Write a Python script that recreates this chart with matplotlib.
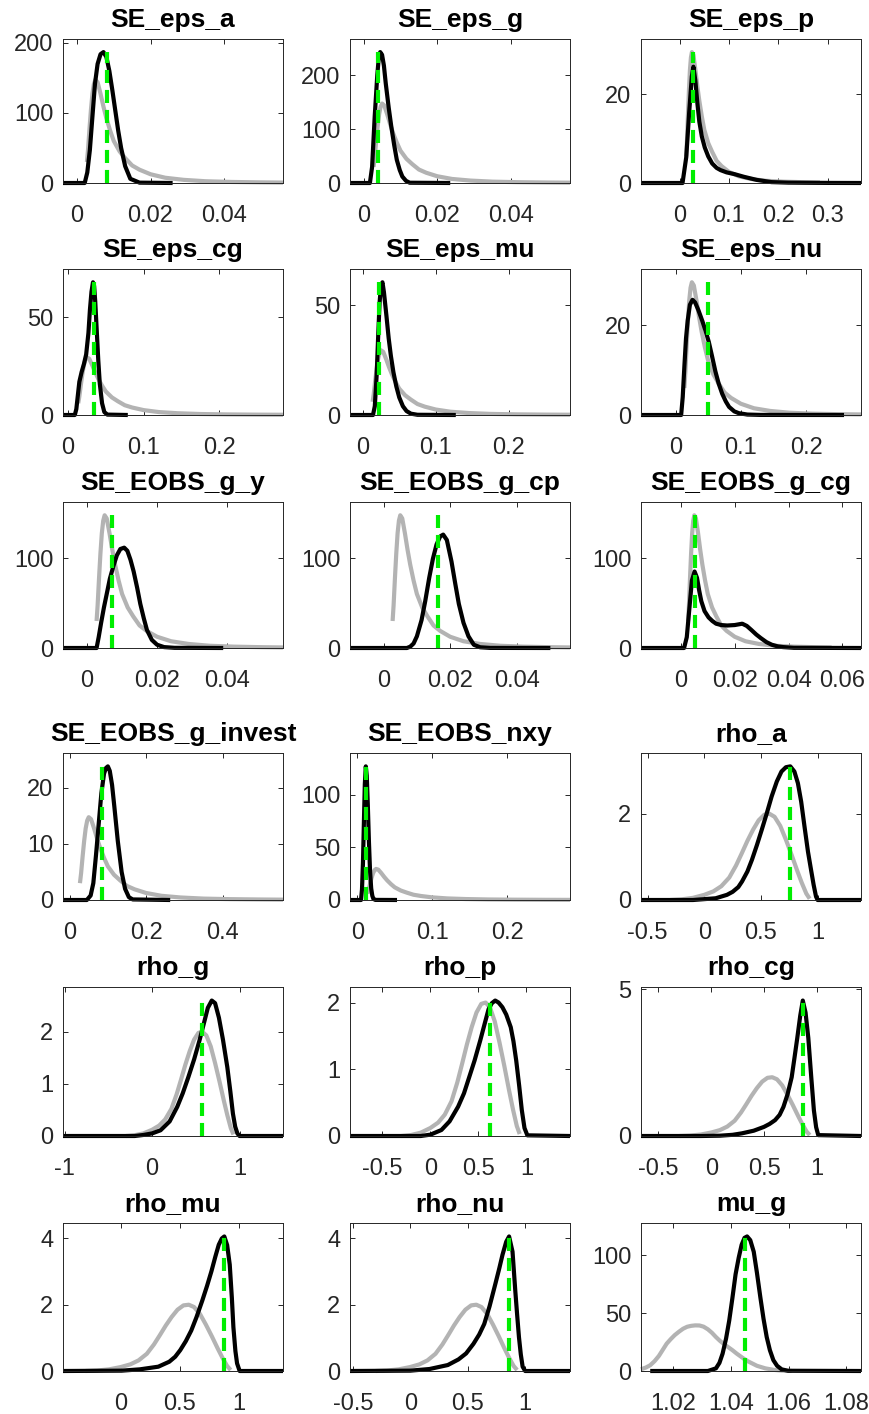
"""Prior vs posterior density panels (Dynare style), two 3x3 pages stacked."""
import matplotlib

matplotlib.use("Agg")
import matplotlib.pyplot as plt
from matplotlib.ticker import FuncFormatter

plt.rcParams.update(
    {
        "font.family": ["Liberation Sans", "DejaVu Sans"],
        "axes.unicode_minus": False,
        "lines.scale_dashes": False,
    }
)

GRAY = "#b3b3b3"
GREEN = "#00ee00"
AXCOL = "#262626"

# ---- priors ----
PRIOR_SMALL_X = [0.0027, 0.003, 0.0034, 0.0038, 0.0042, 0.0046, 0.005, 0.0056, 0.0064, 0.0072, 0.008, 0.009,
                 0.01, 0.0116, 0.0132, 0.015, 0.017, 0.02, 0.024, 0.029, 0.035, 0.042, 0.05, 0.056]
PRIOR_SMALL_Y = [30, 47.5, 77.5, 105, 127.5, 141.5, 147.5, 144, 127.5, 109, 92.5, 75,
                 60, 45, 35, 25, 19, 12.5, 7.5, 4.5, 2.5, 1.5, 0.9, 0.6]

PRIOR_MID_X = [0.0135, 0.015, 0.017, 0.019, 0.021, 0.023, 0.025, 0.028, 0.032, 0.036, 0.04, 0.045, 0.05,
               0.058, 0.066, 0.075, 0.085, 0.1, 0.12, 0.145, 0.175, 0.21, 0.25, 0.284]
PRIOR_MID_Y = [6, 9.5, 15.5, 21, 25.5, 28.3, 29.5, 28.8, 25.5, 21.8, 18.5, 15, 12,
               9, 7, 5, 3.8, 2.5, 1.5, 0.9, 0.5, 0.3, 0.18, 0.12]

PRIOR_INVEST_X = [0.027, 0.03, 0.034, 0.038, 0.042, 0.046, 0.05, 0.056, 0.064, 0.072, 0.08, 0.09, 0.1,
                  0.116, 0.132, 0.15, 0.17, 0.2, 0.24, 0.29, 0.35, 0.42, 0.5, 0.558]
PRIOR_INVEST_Y = [3, 4.75, 7.75, 10.5, 12.75, 14.15, 14.75, 14.4, 12.75, 10.9, 9.25, 7.5, 6,
                  4.5, 3.5, 2.5, 1.9, 1.25, 0.75, 0.45, 0.25, 0.15, 0.09, 0.06]

PRIOR_RHO_X = [-0.3, -0.2, -0.1, 0.0, 0.08, 0.15, 0.22, 0.28, 0.33, 0.38, 0.43, 0.48, 0.53, 0.575,
               0.62, 0.67, 0.72, 0.77, 0.82, 0.86, 0.9, 0.93]
PRIOR_RHO_Y = [0.0, 0.015, 0.05, 0.12, 0.2, 0.32, 0.52, 0.8, 1.08, 1.37, 1.63, 1.85, 1.98, 2.0,
               1.93, 1.72, 1.4, 1.05, 0.68, 0.4, 0.15, 0.03]

PRIOR_MU_G_X = [1.0088, 1.0105, 1.012, 1.0135, 1.015, 1.0164, 1.0177, 1.0191, 1.0205, 1.022, 1.0234,
                1.0248, 1.0262, 1.0276, 1.0291, 1.0305, 1.032, 1.0334, 1.0348, 1.0362, 1.0377, 1.0391,
                1.0405, 1.042, 1.0434, 1.0448, 1.0462, 1.049, 1.0519, 1.0548, 1.0576, 1.061]
PRIOR_MU_G_Y = [1.5, 3, 5, 8.5, 13, 18.5, 23.6, 27.5, 31, 34, 36.5, 38.2, 39, 39.4, 39.3, 38.3, 36,
                33, 29.3, 26, 23, 20.5, 18, 15, 12.5, 10, 8, 4.5, 2.3, 1, 0.3, 0.05]

# ---- posteriors ----
EPS_A_X = [-0.0038, 0.0021, 0.0028, 0.0035, 0.0042, 0.0049, 0.0056, 0.0064, 0.0072, 0.008, 0.0088,
           0.0096, 0.0104, 0.0112, 0.012, 0.0131, 0.0145, 0.017, 0.026]
EPS_A_Y = [0, 0, 15, 47, 95, 142, 170, 184, 187, 180, 160, 133, 104, 75, 50, 24, 6, 0.5, 0]

EPS_G_X = [-0.0037, 0.0017, 0.0023, 0.003, 0.0037, 0.0041, 0.0045, 0.005, 0.0055, 0.006, 0.0068,
           0.0075, 0.0083, 0.009, 0.0098, 0.0105, 0.0115, 0.0125, 0.0235]
EPS_G_Y = [0, 0, 30, 123, 200, 232, 243, 238, 218, 185, 140, 105, 70, 43, 24, 12, 4, 0.5, 0]

EPS_P_X = [-0.078, 0.006, 0.0135, 0.0195, 0.0248, 0.028, 0.032, 0.036, 0.04, 0.045, 0.051, 0.058,
           0.066, 0.075, 0.083, 0.095, 0.111, 0.13, 0.156, 0.186, 0.22, 0.3, 0.367]
EPS_P_Y = [0, 0, 5.8, 16, 24, 26.2, 23, 18, 13.8, 10.5, 8, 6, 4.4, 3.4, 2.9, 2.4, 2.0, 1.4, 0.7,
           0.2, 0.08, 0.02, 0]

EPS_CG_X = [-0.0066, 0.009, 0.011, 0.013, 0.015, 0.018, 0.021, 0.024, 0.027, 0.029, 0.031, 0.033,
            0.0345, 0.036, 0.038, 0.04, 0.042, 0.045, 0.048, 0.052, 0.079]
EPS_CG_Y = [0, 0, 3, 10, 17, 22, 26, 31, 42, 54, 63, 67.9, 66, 58, 43, 28, 16, 6, 1.5, 0.2, 0]

EPS_MU_X = [-0.0175, 0.014, 0.0165, 0.019, 0.021, 0.023, 0.025, 0.027, 0.029, 0.0325, 0.0355, 0.0385,
            0.042, 0.046, 0.05, 0.055, 0.06, 0.066, 0.075, 0.1275]
EPS_MU_Y = [0, 0, 4, 18, 35, 51, 59, 60.5, 56, 45, 35, 27, 19.5, 13, 8, 4, 1.8, 0.6, 0.1, 0]

EPS_NU_X = [-0.0529, 0.0086, 0.011, 0.0136, 0.016, 0.0186, 0.022, 0.026, 0.03, 0.035, 0.041, 0.046,
            0.051, 0.056, 0.061, 0.066, 0.0715, 0.077, 0.082, 0.09, 0.097, 0.11, 0.13, 0.258]
EPS_NU_Y = [0, 0, 4, 11, 17, 21, 24.5, 25.6, 25, 23.3, 20.9, 18.7, 16.2, 13, 9.7, 7, 4.7, 3, 1.8,
            0.8, 0.4, 0.1, 0.02, 0]

G_Y_X = [-0.0069, 0.0027, 0.0033, 0.004, 0.0048, 0.0056, 0.0065, 0.0075, 0.0085, 0.0095, 0.0106,
         0.0115, 0.0124, 0.0133, 0.0143, 0.0152, 0.0162, 0.0171, 0.0185, 0.02, 0.022, 0.025, 0.0389]
G_Y_Y = [0, 0, 12, 28, 45, 60, 77, 91, 103, 110, 111.5, 108, 98, 85, 67, 49, 33, 20, 9, 3.6, 1, 0.2, 0]

G_CP_X = [-0.0101, 0.007, 0.008, 0.009, 0.010, 0.0114, 0.0125, 0.0137, 0.0148, 0.0159, 0.017, 0.0179,
          0.019, 0.0204, 0.0215, 0.0226, 0.024, 0.0255, 0.0271, 0.029, 0.032, 0.0501]
G_CP_Y = [0, 0, 1.5, 5, 13, 31, 52, 78, 99, 115, 124, 126, 120, 96, 72, 49, 28, 13, 3.6, 0.8, 0.1, 0]

G_CG_X = [-0.0148, 0.0012, 0.0022, 0.0032, 0.0041, 0.0051, 0.006, 0.0068, 0.0076, 0.0088, 0.0103,
          0.0117, 0.0131, 0.015, 0.0172, 0.02, 0.0228, 0.0245, 0.0262, 0.028, 0.0297, 0.0318, 0.0338,
          0.036, 0.038, 0.042, 0.0669]
G_CG_Y = [0, 0, 12, 45, 75, 85, 78, 64, 52, 41, 34, 30, 27, 25.5, 25, 25.5, 27, 24.5, 20, 15, 11,
          6.5, 3.6, 1.8, 1, 0.2, 0]

G_INV_X = [-0.0173, 0.045, 0.055, 0.062, 0.069, 0.076, 0.083, 0.09, 0.095, 0.1, 0.105, 0.111, 0.117,
           0.126, 0.136, 0.145, 0.155, 0.165, 0.263]
G_INV_Y = [0, 0, 0.8, 3, 8, 13.5, 19, 22.5, 23.5, 23.8, 23, 20.5, 16.6, 10.5, 5, 2, 0.5, 0.1, 0]

NXY_X = [-0.0098, 0.0049, 0.0062, 0.0075, 0.0088, 0.01, 0.0113, 0.0126, 0.014, 0.0155, 0.017, 0.0185,
         0.02, 0.0215, 0.024, 0.053]
NXY_Y = [0, 0, 10, 35, 75, 110, 126.8, 118, 90, 55, 27, 11, 4, 1, 0.1, 0]

RHO_A_X = [-0.559, -0.1, 0.1, 0.2, 0.25, 0.3, 0.333, 0.38, 0.42, 0.465, 0.507, 0.55, 0.594, 0.64,
           0.681, 0.72, 0.759, 0.795, 0.826, 0.855, 0.884, 0.915, 0.942, 0.965, 0.986, 1.0, 1.383]
RHO_A_Y = [0, 0, 0.04, 0.12, 0.19, 0.3, 0.43, 0.66, 0.93, 1.28, 1.63, 2.0, 2.4, 2.75, 2.98, 3.08,
           3.10, 2.98, 2.71, 2.28, 1.71, 1.12, 0.70, 0.35, 0.08, 0.0, 0]

RHO_G_X = [-1.02, -0.2, -0.1, 0.0, 0.096, 0.2, 0.287, 0.35, 0.414, 0.48, 0.541, 0.59, 0.637, 0.682,
           0.72, 0.764, 0.81, 0.86, 0.895, 0.924, 0.95, 0.975, 1.0, 1.497]
RHO_G_Y = [0, 0, 0.02, 0.05, 0.11, 0.28, 0.56, 0.82, 1.13, 1.47, 1.83, 2.15, 2.46, 2.6, 2.55, 2.27,
           1.85, 1.32, 0.85, 0.43, 0.18, 0.05, 0, 0]

RHO_P_X = [-0.837, -0.1, 0.0, 0.115, 0.2, 0.289, 0.35, 0.404, 0.46, 0.519, 0.565, 0.606, 0.64, 0.675,
           0.71, 0.75, 0.79, 0.837, 0.865, 0.894, 0.925, 0.952, 0.98, 1.01, 1.454]
RHO_P_Y = [0, 0, 0.02, 0.09, 0.22, 0.44, 0.64, 0.88, 1.13, 1.43, 1.68, 1.9, 1.99, 2.03, 2.0, 1.93,
           1.82, 1.63, 1.42, 1.13, 0.75, 0.39, 0.12, 0.01, 0]

RHO_CG_X = [-0.665, -0.1, 0.079, 0.2, 0.288, 0.4, 0.497, 0.55, 0.602, 0.645, 0.681, 0.72, 0.759,
            0.785, 0.812, 0.84, 0.864, 0.89, 0.916, 0.945, 0.969, 0.99, 1.01, 1.414]
RHO_CG_Y = [0, 0, 0.01, 0.04, 0.09, 0.18, 0.31, 0.41, 0.54, 0.72, 0.99, 1.42, 2.0, 2.65, 3.34, 4.1,
            4.61, 4.2, 3.34, 1.95, 0.87, 0.3, 0.03, 0]

RHO_MU_X = [-0.49, 0.006, 0.161, 0.317, 0.41, 0.46, 0.503, 0.55, 0.596, 0.64, 0.689, 0.73, 0.767,
            0.8, 0.829, 0.855, 0.876, 0.9, 0.922, 0.94, 0.953, 0.97, 0.984, 1.006, 1.373]
RHO_MU_Y = [0, 0.01, 0.05, 0.13, 0.28, 0.43, 0.63, 0.9, 1.22, 1.62, 2.12, 2.57, 3.01, 3.45, 3.81,
            4.0, 4.06, 3.8, 3.21, 2.2, 1.32, 0.6, 0.23, 0, 0]

RHO_NU_X = [-0.524, 0.0, 0.168, 0.327, 0.42, 0.486, 0.55, 0.6, 0.644, 0.69, 0.74, 0.775, 0.803,
            0.835, 0.86, 0.89, 0.914, 0.93, 0.946, 0.962, 0.978, 1.0, 1.39]
RHO_NU_Y = [0, 0.01, 0.06, 0.18, 0.35, 0.53, 0.82, 1.1, 1.42, 1.95, 2.62, 3.1, 3.51, 3.9, 4.06, 3.6,
            2.42, 1.7, 1.02, 0.5, 0.13, 0, 0]

MU_G_X = [1.012, 1.032, 1.0348, 1.036, 1.0371, 1.0383, 1.0394, 1.0405, 1.0416, 1.0427, 1.0437,
          1.0447, 1.0456, 1.0467, 1.0479, 1.049, 1.0502, 1.0513, 1.0524, 1.0535, 1.0547, 1.056,
          1.0576, 1.0598, 1.0851]
MU_G_Y = [0, 0, 2.3, 7, 15, 28, 43.6, 63, 83.5, 98, 109, 115, 116.2, 113, 103, 85, 63.5, 45, 29.3,
          18, 9.4, 4.5, 1.4, 0.2, 0]

TITLES = ["SE_eps_a", "SE_eps_g", "SE_eps_p", "SE_eps_cg", "SE_eps_mu", "SE_eps_nu",
          "SE_EOBS_g_y", "SE_EOBS_g_cp", "SE_EOBS_g_cg", "SE_EOBS_g_invest", "SE_EOBS_nxy", "rho_a",
          "rho_g", "rho_p", "rho_cg", "rho_mu", "rho_nu", "mu_g"]
MODES = [0.0082, 0.004, 0.027, 0.034, 0.0225, 0.050, 0.0072, 0.0162, 0.0051, 0.085, 0.0113, 0.76,
         0.573, 0.617, 0.864, 0.876, 0.86, 1.045]
XTICKS = [[0, 0.02, 0.04], [0, 0.02, 0.04], [0, 0.1, 0.2, 0.3], [0, 0.1, 0.2], [0, 0.1, 0.2],
          [0, 0.1, 0.2], [0, 0.02, 0.04], [0, 0.02, 0.04], [0, 0.02, 0.04, 0.06], [0, 0.2, 0.4],
          [0, 0.1, 0.2], [-0.5, 0, 0.5, 1], [-1, 0, 1], [-0.5, 0, 0.5, 1], [-0.5, 0, 0.5, 1],
          [0, 0.5, 1], [-0.5, 0, 0.5, 1], [1.02, 1.04, 1.06, 1.08]]
YTICKS = [[0, 100, 200], [0, 100, 200], [0, 20], [0, 50], [0, 50], [0, 20], [0, 100], [0, 100],
          [0, 100], [0, 10, 20], [0, 50, 100], [0, 2], [0, 1, 2], [0, 1, 2], [0, 5], [0, 2, 4],
          [0, 2, 4], [0, 50, 100]]

POSTERIORS = [(EPS_A_X, EPS_A_Y), (EPS_G_X, EPS_G_Y), (EPS_P_X, EPS_P_Y), (EPS_CG_X, EPS_CG_Y),
              (EPS_MU_X, EPS_MU_Y), (EPS_NU_X, EPS_NU_Y), (G_Y_X, G_Y_Y), (G_CP_X, G_CP_Y),
              (G_CG_X, G_CG_Y), (G_INV_X, G_INV_Y), (NXY_X, NXY_Y), (RHO_A_X, RHO_A_Y),
              (RHO_G_X, RHO_G_Y), (RHO_P_X, RHO_P_Y), (RHO_CG_X, RHO_CG_Y), (RHO_MU_X, RHO_MU_Y),
              (RHO_NU_X, RHO_NU_Y), (MU_G_X, MU_G_Y)]
SMALL = (PRIOR_SMALL_X, PRIOR_SMALL_Y)
MID = (PRIOR_MID_X, PRIOR_MID_Y)
RHO = (PRIOR_RHO_X, PRIOR_RHO_Y)
PRIORS = [SMALL, SMALL, MID, MID, MID, MID, SMALL, SMALL, SMALL, (PRIOR_INVEST_X, PRIOR_INVEST_Y), MID,
          RHO, RHO, RHO, RHO, RHO, RHO, (PRIOR_MU_G_X, PRIOR_MU_G_Y)]

# layout in pixels
W, H = 870, 1414
COL_LEFT = [63, 350, 641]
COL_WIDTH = 220
ROW_TOP = [39, 269, 502, 753, 987, 1223]
ROW_BOTTOM = [183, 415, 648, 900, 1136, 1371]

fig = plt.figure(figsize=(W / 100, H / 100), dpi=100)
fmt = FuncFormatter(lambda v, _: f"{v:g}")

for i, title in enumerate(TITLES):
    r, c = divmod(i, 3)
    ax = fig.add_axes([COL_LEFT[c] / W, 1 - ROW_BOTTOM[r] / H, COL_WIDTH / W,
                       (ROW_BOTTOM[r] - ROW_TOP[r]) / H])
    px, py = POSTERIORS[i]
    qx, qy = PRIORS[i]
    peak = max(max(py), max(qy))
    ax.plot(qx, qy, color=GRAY, lw=3, solid_capstyle="butt", clip_on=False)
    ax.plot(px, py, color="black", lw=3, solid_capstyle="butt", clip_on=False)
    ax.plot([MODES[i], MODES[i]], [0, peak], color=GREEN, lw=3, dashes=(9.4, 5.0))
    ax.set_xlim(min(px[0], qx[0]), max(px[-1], qx[-1]))
    ax.set_ylim(0, 1.1 * peak)
    ax.set_xticks(XTICKS[i])
    ax.set_yticks(YTICKS[i])
    ax.xaxis.set_major_formatter(fmt)
    ax.yaxis.set_major_formatter(fmt)
    ax.tick_params(direction="in", top=True, right=True, length=3.5, width=0.7, labelsize=17,
                   colors=AXCOL, labelcolor=AXCOL)
    ax.tick_params(axis="x", pad=16)
    ax.tick_params(axis="y", pad=7)
    for s in ax.spines.values():
        s.set_linewidth(0.7)
        s.set_color(AXCOL)
    ax.set_title(title, fontsize=19, fontweight="bold", pad=8.5)

fig.savefig("out.png", dpi=100, facecolor="white")
